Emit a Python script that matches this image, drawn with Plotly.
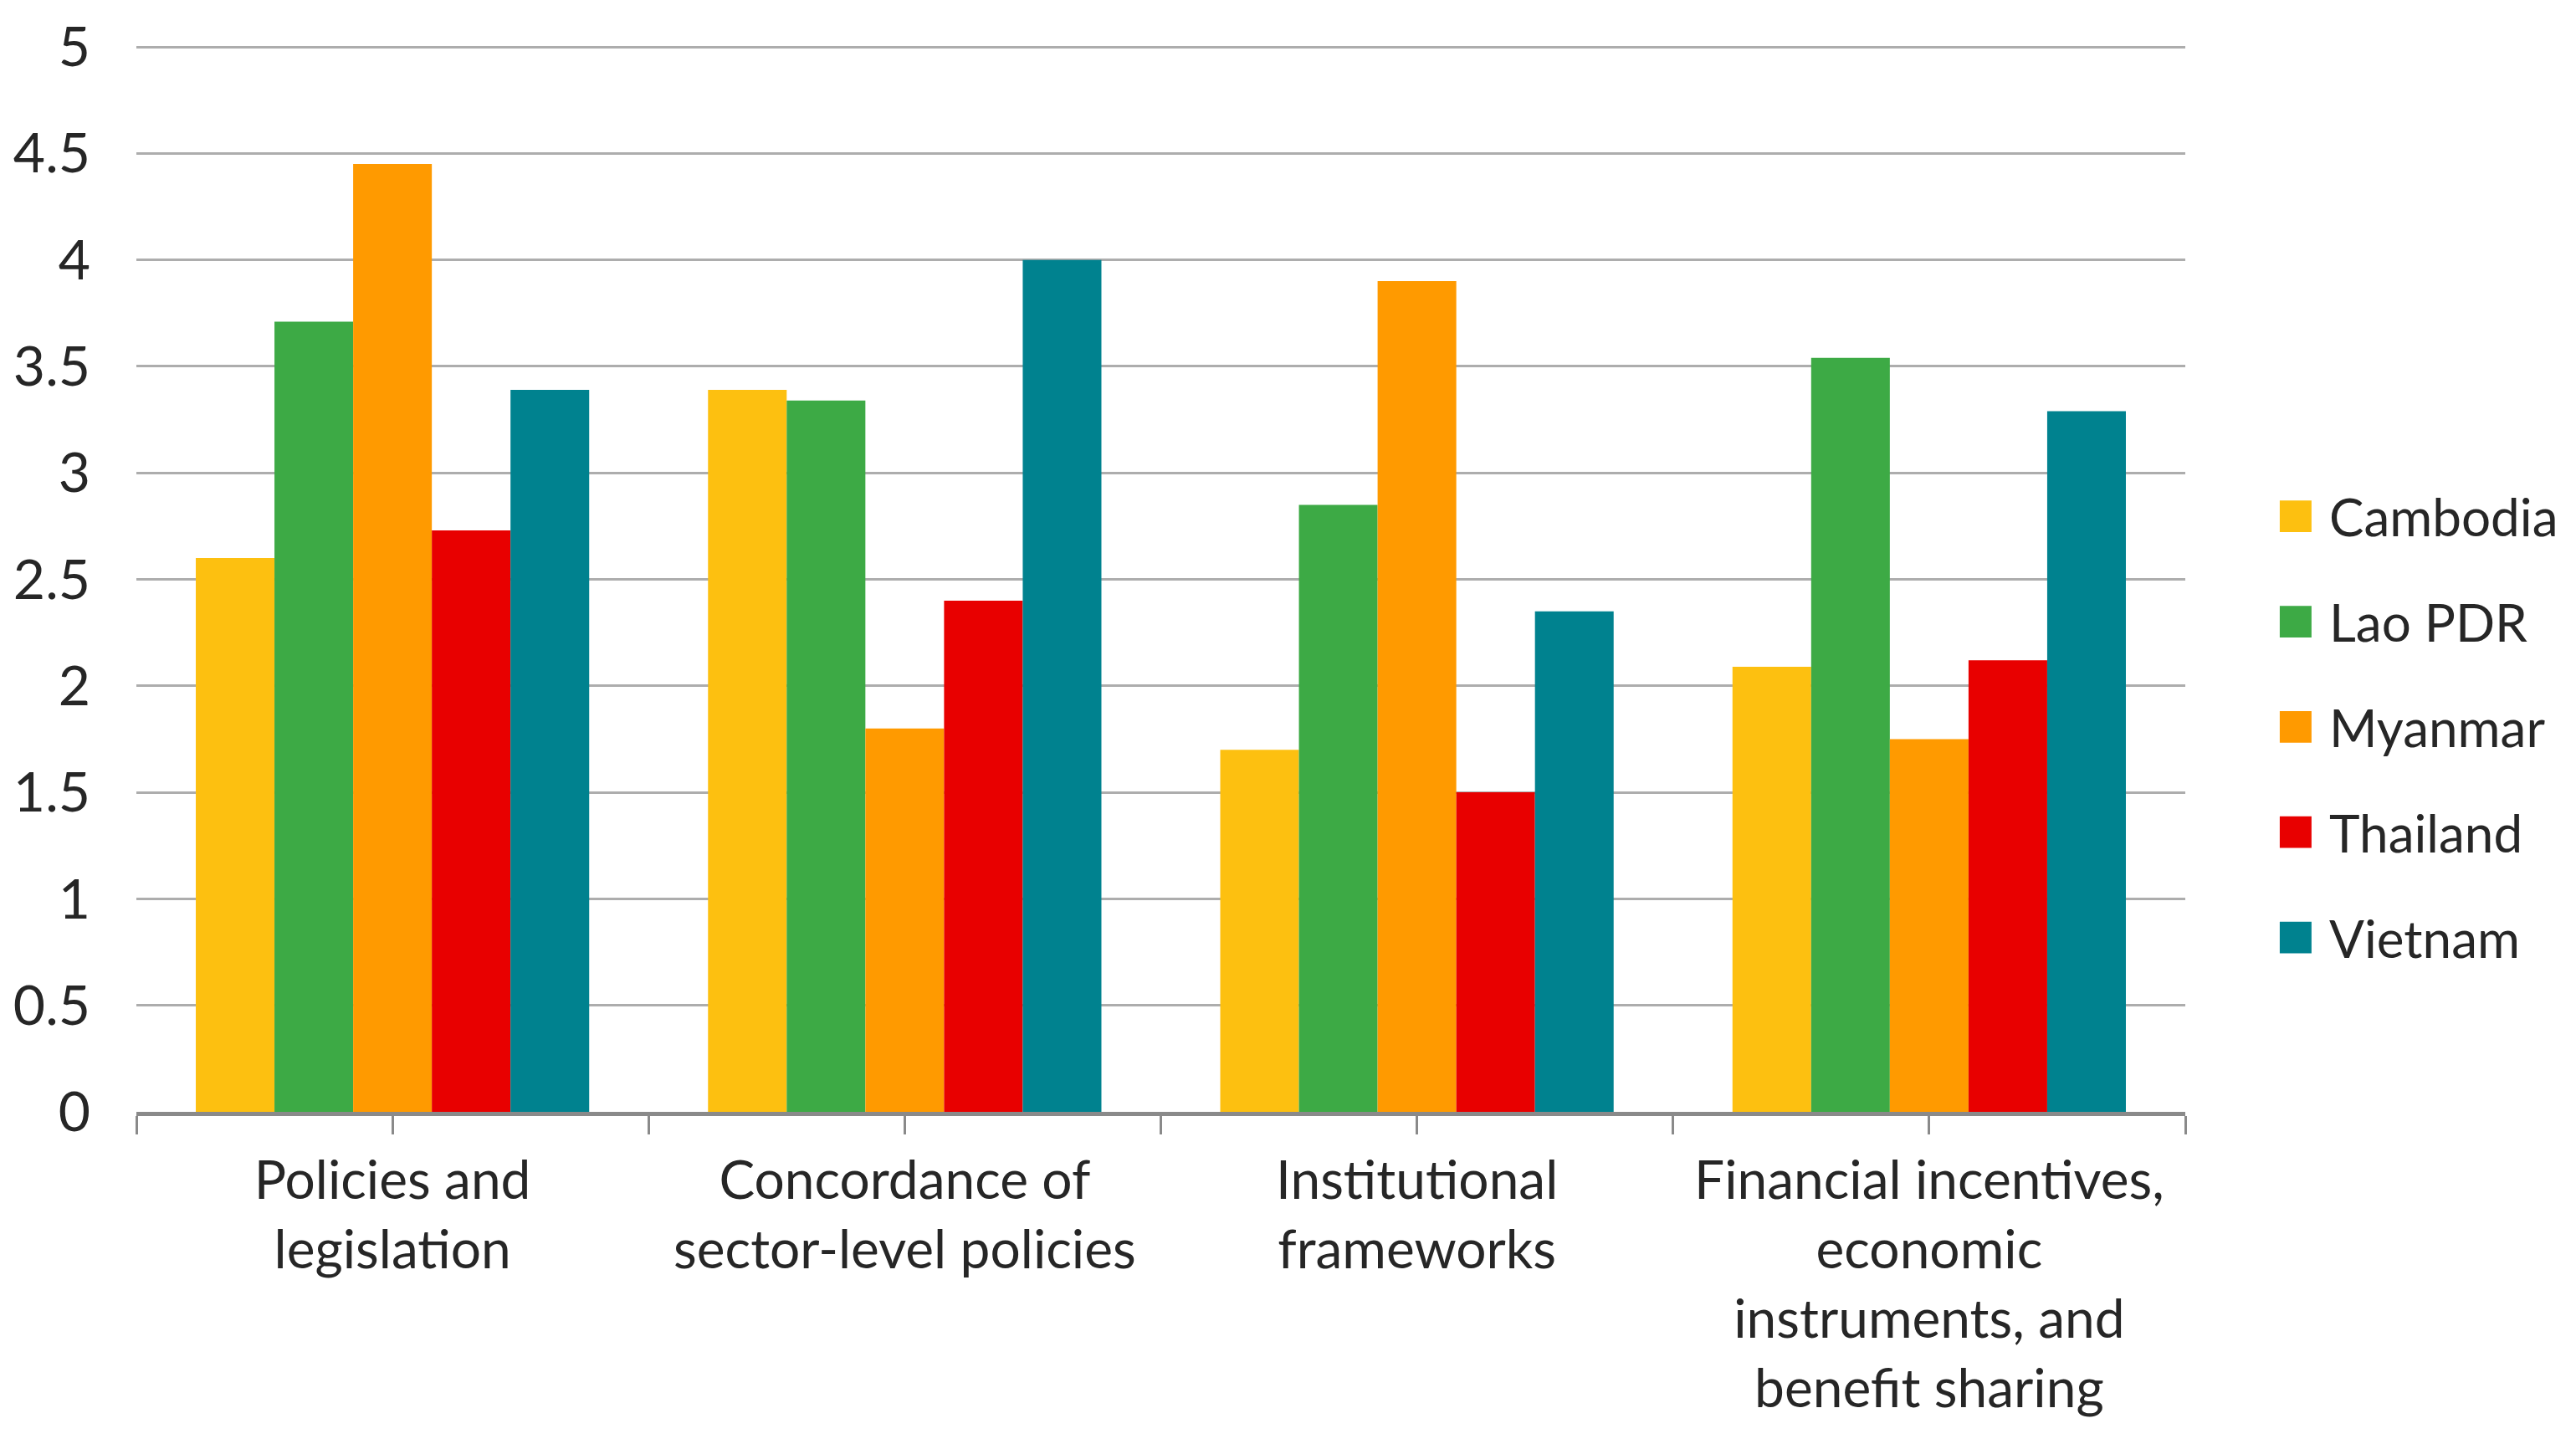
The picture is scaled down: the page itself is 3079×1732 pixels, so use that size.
import plotly.graph_objects as go

categories = [
    "Policies and<br>legislation",
    "Concordance of<br>sector-level policies",
    "Institutional<br>frameworks",
    "Financial incentives,<br>economic<br>instruments, and<br>benefit sharing",
]
countries = ["Cambodia", "Lao PDR", "Myanmar", "Thailand", "Vietnam"]
cambodia = [2.60, 3.39, 1.70, 2.09]
lao_pdr = [3.71, 3.34, 2.85, 3.54]
myanmar = [4.45, 1.80, 3.90, 1.75]
thailand = [2.73, 2.40, 1.50, 2.12]
vietnam = [3.39, 4.00, 2.35, 3.29]
series = [cambodia, lao_pdr, myanmar, thailand, vietnam]
colors = ["#FDC010", "#3DAA45", "#FF9A00", "#E80000", "#00828F"]
y_ticks = [0, 0.5, 1, 1.5, 2, 2.5, 3, 3.5, 4, 4.5, 5]

FONT = "Lato"
TXT = "#262626"
GRID = "#ADADAD"
AXIS = "#8A8A8A"

xpos = list(range(len(categories)))
fig = go.Figure()
for name, vals, col in zip(countries, series, colors):
    fig.add_trace(go.Bar(x=xpos, y=vals, name=name, marker=dict(color=col, line=dict(width=0)),
                         showlegend=False))

# tick positions: boundaries and centres
half = []
for i in range(len(categories)):
    half += [i - 0.5, i]
half.append(len(categories) - 0.5)
half_text = []
for i in range(len(categories)):
    half_text += ["", categories[i]]
half_text.append("")
bounds = [i - 0.5 for i in range(len(categories) + 1)]

fig.update_layout(
    width=3079, height=1732,
    margin=dict(l=155, r=475, t=46, b=411, autoexpand=False),
    paper_bgcolor="white", plot_bgcolor="white",
    barmode="group", bargap=0.232, bargroupgap=0,
    font=dict(family=FONT, size=64, color=TXT),
    xaxis=dict(range=[-0.5, len(categories) - 0.5], tickmode="array", tickvals=half, ticktext=half_text,
               ticks="outside", ticklen=22, tickwidth=3, tickcolor=AXIS, automargin=False,
               showline=True, linecolor=AXIS, linewidth=5, showgrid=False, zeroline=False,
               ticklabeloverflow="allow",
               tickfont=dict(family=FONT, size=64, color=TXT)),
    xaxis2=dict(range=[-0.5, len(categories) - 0.5], overlaying="x", anchor="y", side="bottom",
                tickmode="array", tickvals=bounds, ticks="inside", ticklen=24, tickwidth=3,
                automargin=False,
                tickcolor=AXIS, showticklabels=False, showgrid=False, zeroline=False, showline=False),
    yaxis=dict(range=[0, 5.008], tickmode="array", tickvals=y_ticks, showgrid=True, gridcolor=GRID,
               gridwidth=3, zeroline=False, showline=False, ticks="", ticklabelstandoff=54,
               automargin=False, ticklabeloverflow="allow",
               tickfont=dict(family=FONT, size=66, color=TXT)),
)

# legend drawn as squares + labels
x0, x1, xt = 1.0461, 1.0616, 1.0694
ytop, step, half_h = 0.5583, 0.0987, 0.0148
for k, (name, col) in enumerate(zip(countries, colors)):
    yc = ytop - k * step
    fig.add_shape(type="rect", xref="paper", yref="paper", x0=x0, x1=x1, y0=yc - half_h, y1=yc + half_h,
                  fillcolor=col, line=dict(width=0))
    fig.add_annotation(xref="paper", yref="paper", x=xt, y=yc, text=name, showarrow=False,
                       xanchor="left", yanchor="middle", font=dict(family=FONT, size=62, color=TXT))

fig.write_html("out.html")
